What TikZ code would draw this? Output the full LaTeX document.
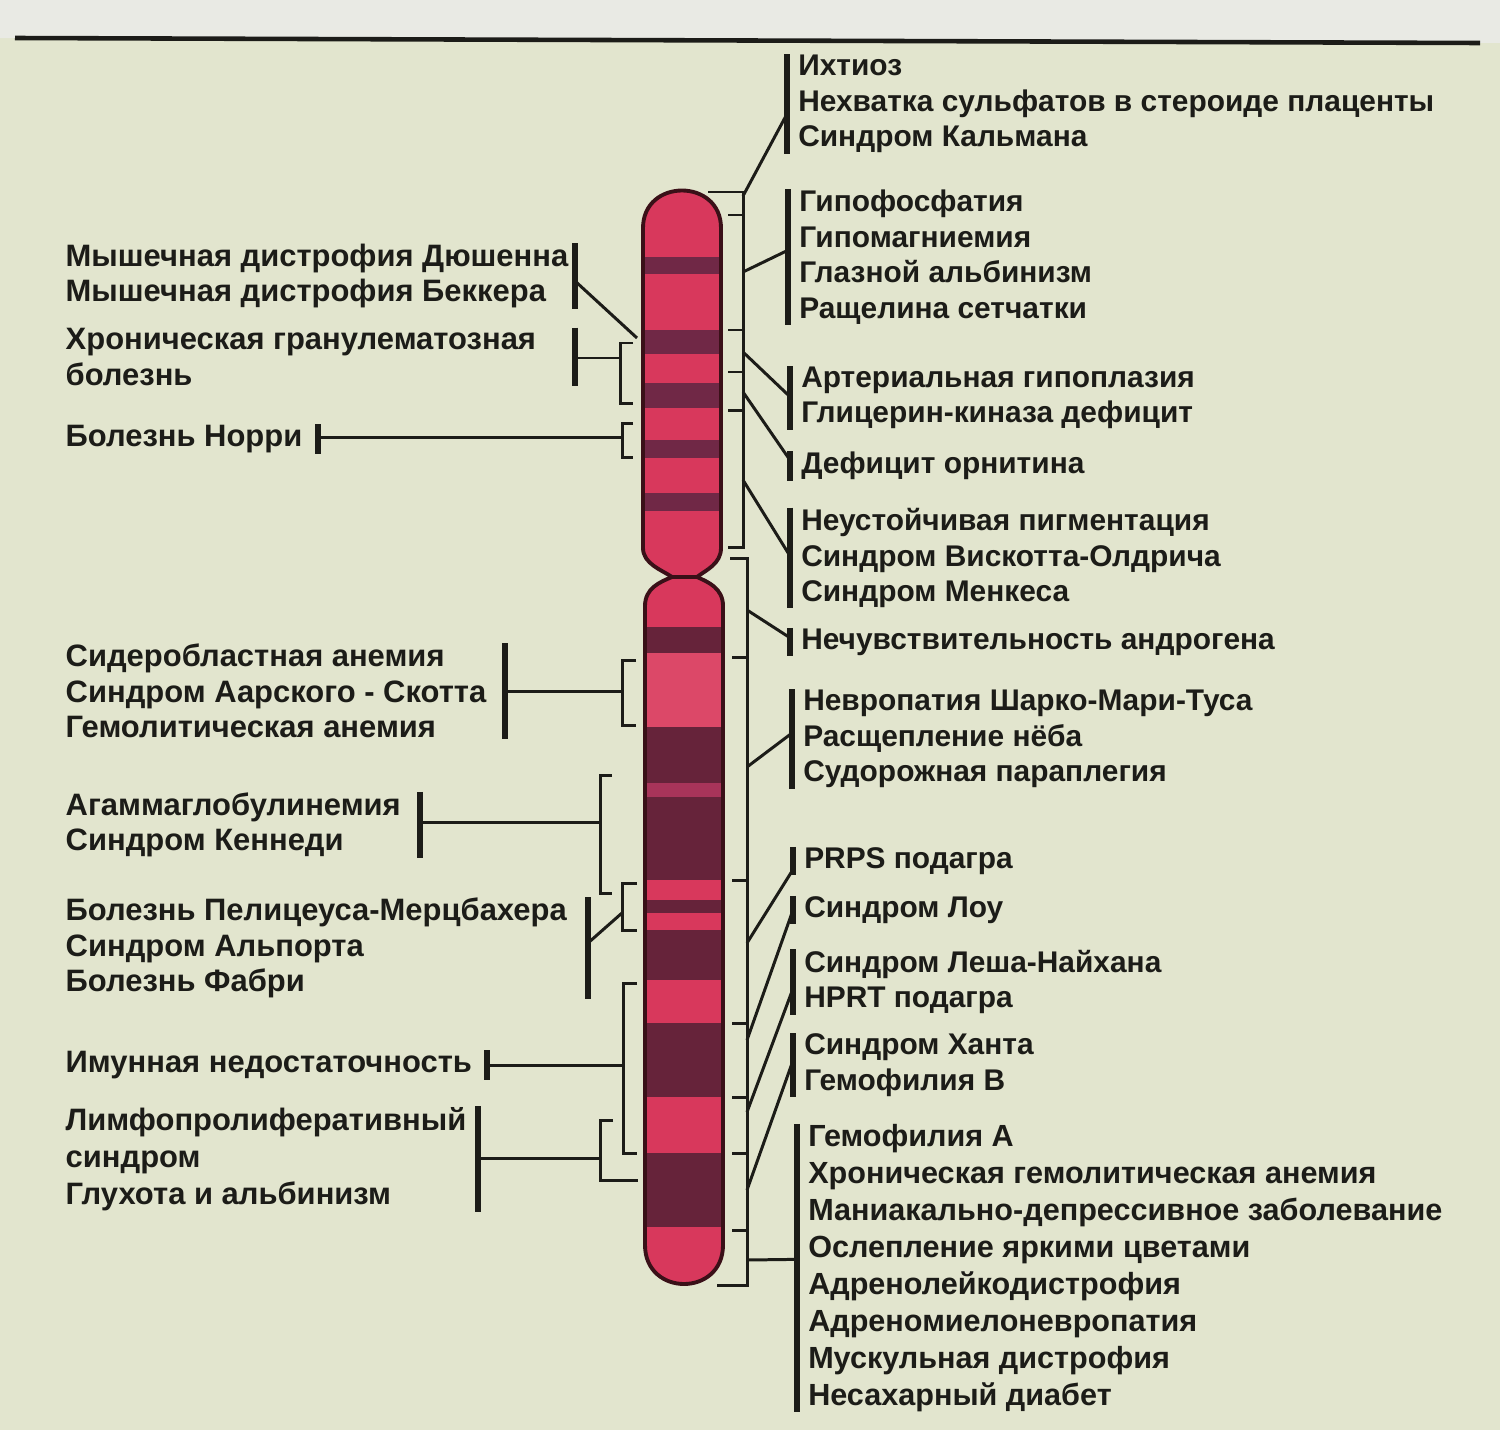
\documentclass[tikz,border=0pt]{standalone}
\usepackage{fontspec}
\setmainfont{Liberation Sans}
\usetikzlibrary{calc}

\definecolor{paper}{HTML}{E2E5CE}
\definecolor{paperTop}{HTML}{E9EAE4}
\definecolor{ink}{HTML}{1C1C18}
\definecolor{armLight}{HTML}{D8385C}
\definecolor{armPale}{HTML}{DC4868}
\definecolor{armMid}{HTML}{A8345A}
\definecolor{armDark}{HTML}{66233A}
\definecolor{armBand}{HTML}{702846}
\definecolor{armEdge}{HTML}{3A1018}

% outlines of the two chromosome arms
\newcommand{\armUpper}{(643,548) -- (643,228) .. controls (643,178) and (721,178) .. (721,228)
  -- (721,548) .. controls (721,564) and (706,570) .. (697,577) -- (672,577)
  .. controls (662,570) and (643,564) .. (643,548) -- cycle}
\newcommand{\armLower}{(672,577) .. controls (660,582) and (645,588) .. (645,606)
  -- (645,1245) .. controls (645,1297) and (723,1297) .. (723,1245)
  -- (723,606) .. controls (723,588) and (708,582) .. (697,577) -- cycle}

\begin{document}
\begin{tikzpicture}[x = 0.01cm, y = -0.01cm,
    wire/.style = {draw = ink, line width = 0.85pt},
    bar/.style = {draw = ink, line width = 1.8pt},
    rtext/.style = {anchor = west, align = left, inner xsep = 3pt, inner ysep = 0pt,
                    text = ink, font = \bfseries\fontsize{8.5}{10.1}\selectfont},
    ltext/.style = {anchor = west, align = left, inner sep = 0pt,
                    text = ink, font = \bfseries\fontsize{8.8}{10.1}\selectfont}]

  % paper
  \useasboundingbox (0,0) rectangle (1500,1430);
  \fill[paper] (0,0) rectangle (1500,1430);
  \fill[paperTop] (0,0) -- (1500,0) -- (1500,43) -- (0,38) -- cycle;
  \draw[ink, line width = 1.3pt] (15,38) -- (1480,43);

  % chromosome
  \fill[armLight] \armUpper;
  \fill[armLight] \armLower;
  \begin{scope}
    \clip \armUpper;
    \foreach \a/\b in {257/274, 330/354, 383/408, 440/458, 493/511}
      \fill[armBand] (630,\a) rectangle (740,\b);
  \end{scope}
  \begin{scope}
    \clip \armLower;
    \fill[armPale] (630,653) rectangle (740,727);
    \foreach \a/\b in {627/653, 727/783, 797/880, 900/913, 930/980, 1023/1097, 1153/1227}
      \fill[armDark] (630,\a) rectangle (740,\b);
    \fill[armMid] (630,783) rectangle (740,797);
  \end{scope}
  \draw[armEdge, line width = 1.1pt] \armUpper;
  \draw[armEdge, line width = 1.1pt] \armLower;

  % right labels
  \node[rtext] (r1) at (787,104) {Ихтиоз\\Нехватка сульфатов в стероиде плаценты\\Синдром Кальмана};
  \node[rtext] (r2) at (788,257) {Гипофосфатия\\Гипомагниемия\\Глазной альбинизм\\Ращелина сетчатки};
  \node[rtext] (r3) at (790,398) {Артериальная гипоплазия\\Глицерин-киназа дефицит};
  \node[rtext] (r4) at (790,466) {Дефицит орнитина};
  \node[rtext] (r5) at (790,558) {Неустойчивая пигментация\\Синдром Вискотта-Олдрича\\Синдром Менкеса};
  \node[rtext] (r6) at (790,642) {Нечувствительность андрогена};
  \node[rtext] (r7) at (792,739) {Невропатия Шарко-Мари-Туса\\Расщепление нёба\\Судорожная параплегия};
  \node[rtext] (r8) at (793,861) {PRPS подагра};
  \node[rtext] (r9) at (793,910) {Синдром Лоу};
  \node[rtext] (r10) at (793,982) {Синдром Леша-Найхана\\HPRT подагра};
  \node[rtext] (r11) at (793,1065) {Синдром Ханта\\Гемофилия В};
  \node[rtext, font = \bfseries\fontsize{8.7}{10.5}\selectfont] (r12) at (797,1268)
    {Гемофилия А\\Хроническая гемолитическая анемия\\Маниакально-депрессивное заболевание\\Ослепление яркими цветами\\Адренолейкодистрофия\\Адреномиелоневропатия\\Мускульная дистрофия\\Несахарный диабет};
  \foreach \n in {r1, r2, r3, r4, r5, r6, r7, r8, r9, r10, r11, r12}
    \draw[bar] (\n.north west) -- (\n.south west);

  % right brackets along the chromosome
  \draw[wire] (708,192) -- (743,192) -- (743,547) -- (728,547);
  \foreach \y in {215, 330, 372, 410}
    \draw[wire] (728,\y) -- (743,\y);
  \draw[wire] (730,558) -- (747,558) -- (747,1285) -- (717,1285);
  \foreach \y in {657, 880, 1023, 1097, 1153, 1230}
    \draw[wire] (732,\y) -- (747,\y);

  \coordinate (s1) at (743,196);
  \coordinate (s2) at (743,272);
  \coordinate (s3) at (743,352);
  \coordinate (s4) at (743,392);
  \coordinate (s5) at (743,480);
  \coordinate (s6) at (747,610);
  \coordinate (s7) at (747,767);
  \coordinate (s8) at (747,943);
  \coordinate (s9) at (747,1040);
  \coordinate (s10) at (747,1112);
  \coordinate (s11) at (747,1190);
  \coordinate (s12) at (747,1260);

  \foreach \s/\n/\f in {s1/r1/.6, s2/r2/.45, s3/r3/.48, s4/r4/.3, s5/r5/.48, s6/r6/.35,
                        s7/r7/.44, s8/r8/.8, s9/r9/.5, s10/r10/.6, s11/r11/.43, s12/r12/.47}
    \draw[wire] (\s) -- ($(\n.north west)!\f!(\n.south west)$);

  % left labels
  \node[ltext] (l1) at (65,276) {Мышечная дистрофия Дюшенна\\Мышечная дистрофия Беккера};
  \node[ltext] (l2) at (65,357) {Хроническая гранулематозная\\болезнь};
  \node[ltext] (l3) at (65,439) {Болезнь Норри};
  \node[ltext] (l4) at (65,691) {Сидеробластная анемия\\Синдром Аарского - Скотта\\Гемолитическая анемия};
  \node[ltext] (l5) at (65,825) {Агаммаглобулинемия\\Синдром Кеннеди};
  \node[ltext] (l6) at (65,948) {Болезнь Пелицеуса-Мерцбахера\\Синдром Альпорта\\Болезнь Фабри};
  \node[ltext] (l7) at (65,1065) {Имунная недостаточность};
  \node[ltext, font = \bfseries\fontsize{8.8}{10.6}\selectfont] (l8) at (65,1159)
    {Лимфопролиферативный\\синдром\\Глухота и альбинизм};

  \coordinate (b1) at (575,281);
  \coordinate (b2) at (575,358);
  \coordinate (b3) at (318,437);
  \coordinate (b4) at (505,691);
  \coordinate (b5) at (420,822);
  \coordinate (b6) at (588,943);
  \coordinate (b7) at (487,1065);
  \coordinate (b8) at (478,1158);
  \foreach \b/\n in {b1/l1, b2/l2, b3/l3, b4/l4, b5/l5, b6/l6, b7/l7, b8/l8}
    \draw[bar] (\b |- \n.north) -- (\b |- \n.south);

  % left brackets along the chromosome
  \draw[wire] (633,343) -- (620,343) -- (620,403) -- (633,403);
  \draw[wire] (633,423) -- (622,423) -- (622,457) -- (633,457);
  \draw[wire] (636,660) -- (622,660) -- (622,725) -- (636,725);
  \draw[wire] (612,775) -- (600,775) -- (600,893) -- (612,893);
  \draw[wire] (637,883) -- (622,883) -- (622,930) -- (637,930);
  \draw[wire] (637,983) -- (623,983) -- (623,1153) -- (637,1153);
  \draw[wire] (613,1120) -- (600,1120) -- (600,1180) -- (638,1180);

  \coordinate (c1) at (637,338);
  \coordinate (c2) at (620,358);
  \coordinate (c3) at (622,437);
  \coordinate (c4) at (622,691);
  \coordinate (c5) at (600,822);
  \coordinate (c6) at (622,913);
  \coordinate (c7) at (623,1065);
  \coordinate (c8) at (600,1158);
  \foreach \i in {1, ..., 8}
    \draw[wire] (b\i) -- (c\i);
\end{tikzpicture}
\end{document}
